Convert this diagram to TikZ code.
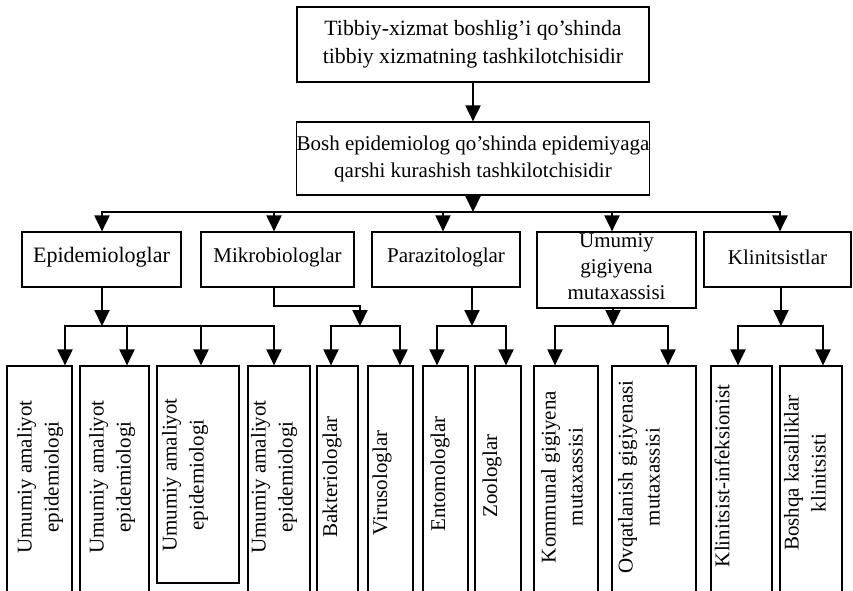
\documentclass[tikz,border=0pt]{standalone}
\usepackage{fontspec}
\setmainfont{Liberation Serif}
\usetikzlibrary{arrows.meta}
\begin{document}
\begin{tikzpicture}[x=1pt,y=-1pt,
  box/.style={draw,line width=1.2pt,inner sep=0pt},
  txt/.style={font=\fontsize{21}{27}\selectfont,align=center,inner sep=0pt},
  vtxt/.style={txt,rotate=90},
  conn/.style={line width=2pt},
  arr/.style={conn,-{Triangle[width=15pt,length=16pt]}}]
\useasboundingbox (0,0) rectangle (853,590);
\clip (0,0) rectangle (853,590);
% top level
\node[box,txt,font=\fontsize{21.8}{28}\selectfont,minimum width=352pt,minimum height=75pt] (top) at (473,44.5)
  {Tibbiy-xizmat boshlig’i qo’shinda\\tibbiy xizmatning tashkilotchisidir};
\node[box,txt,minimum width=352pt,minimum height=73pt] (chief) at (473,158.5)
  {Bosh epidemiolog qo’shinda epidemiyaga\\qarshi kurashish tashkilotchisidir};
% level 2
\node[box,minimum width=159pt,minimum height=55pt] (epid) at (101.5,259.5) {};
\node[txt,font=\fontsize{22}{27}\selectfont] (epidt) at (101.5,257) {Epidemiologlar};
\node[box,minimum width=153pt,minimum height=55pt] (mikro) at (277.5,259.5) {};
\node[txt] (mikrot) at (277.5,257) {Mikrobiologlar};
\node[box,minimum width=148pt,minimum height=55pt] (paraz) at (446,259.5) {};
\node[txt] (parazt) at (446,257) {Parazitologlar};
\node[box,minimum width=159pt,minimum height=76pt] (umum) at (616.5,270) {};
\node[txt,font=\fontsize{21}{26}\selectfont] (umumt) at (616.5,267) {Umumiy\\gigiyena\\mutaxassisi};
\node[box,minimum width=147pt,minimum height=55pt] (klin) at (777.5,259.5) {};
\node[txt] (klint) at (777.5,257) {Klinitsistlar};
% level 3 boxes
\node[box,minimum width=65pt,minimum height=234pt] (b1) at (39.5,483) {};
\node[box,minimum width=69pt,minimum height=234pt] (b2) at (114.5,483) {};
\node[box,minimum width=82pt,minimum height=217pt] (b3) at (198,474.5) {};
\node[box,minimum width=62pt,minimum height=234pt] (b4) at (279,483) {};
\node[box,minimum width=41pt,minimum height=234pt] (b5) at (337.5,483) {};
\node[box,minimum width=45pt,minimum height=234pt] (b6) at (390.5,483) {};
\node[box,minimum width=45pt,minimum height=234pt] (b7) at (445.5,483) {};
\node[box,minimum width=46pt,minimum height=234pt] (b8) at (498,483) {};
\node[box,minimum width=64pt,minimum height=234pt] (b9) at (566,483) {};
\node[box,minimum width=84pt,minimum height=234pt] (b10) at (654,483) {};
\node[box,minimum width=61pt,minimum height=234pt] (b11) at (741.5,483) {};
\node[box,minimum width=62pt,minimum height=234pt] (b12) at (811,483) {};
% level 3 texts
\node[vtxt] (t1) at (40,477) {Umumiy amaliyot\\epidemiologi};
\node[vtxt] (t2) at (112,477) {Umumiy amaliyot\\epidemiologi};
\node[vtxt] (t3) at (185,475) {Umumiy amaliyot\\epidemiologi};
\node[vtxt] (t4) at (274,477) {Umumiy amaliyot\\epidemiologi};
\node[vtxt] (t5) at (332,477) {Bakteriologlar};
\node[vtxt] (t6) at (382,483) {Virusologlar};
\node[vtxt] (t7) at (440,474) {Entomologlar};
\node[vtxt] (t8) at (492,476) {Zoologlar};
\node[vtxt] (t9) at (562,477) {Kommunal gigiyena\\mutaxassisi};
\node[vtxt] (t10) at (639,477) {Ovqatlanish gigiyenasi\\mutaxassisi};
\node[vtxt] (t11) at (722,476) {Klinitsist-infeksionist};
\node[vtxt] (t12) at (805,473) {Boshqa kasalliklar\\klinitsisti};
% connectors top
\draw[arr] (top.south) -- (chief.north);
\coordinate (barC) at (473,212);
\coordinate (barL) at (102,212);
\coordinate (barM) at (274,212);
\coordinate (barP) at (443,212);
\coordinate (barU) at (612,212);
\coordinate (barR) at (780,212);
\draw[arr] (chief.south) -- (barC);
\draw[conn,line cap=rect] (barL) -- (barR);
\draw[arr] (barL) -- (barL |- epid.north);
\draw[arr] (barM) -- (barM |- mikro.north);
\draw[arr] (barP) -- (barP |- paraz.north);
\draw[arr] (barU) -- (barU |- umum.north);
\draw[arr] (barR) -- (barR |- klin.north);
% epidemiologlar group
\coordinate (eC) at (102,326);
\coordinate (eL) at (65,326);
\coordinate (e2) at (127,326);
\coordinate (e3) at (201,326);
\coordinate (eR) at (274,326);
\draw[arr] (epid.south -| eC) -- (eC);
\draw[conn,line cap=rect] (eL) -- (eR);
\draw[arr] (eL) -- (eL |- b1.north);
\draw[arr] (e2) -- (e2 |- b2.north);
\draw[arr] (e3) -- (e3 |- b3.north);
\draw[arr] (eR) -- (eR |- b4.north);
% mikrobiologlar group
\coordinate (m1) at (274,306);
\coordinate (m2) at (360,306);
\coordinate (mC) at (360,326);
\coordinate (mL) at (331,326);
\coordinate (mR) at (400,326);
\draw[arr] (mikro.south -| m1) -- (m1) -- (m2) -- (mC);
\draw[conn,line cap=rect] (mL) -- (mR);
\draw[arr] (mL) -- (mL |- b5.north);
\draw[arr] (mR) -- (mR |- b6.north);
% parazitologlar group
\coordinate (pC) at (472,326);
\coordinate (pL) at (437,326);
\coordinate (pR) at (506,326);
\draw[arr] (paraz.south -| pC) -- (pC);
\draw[conn,line cap=rect] (pL) -- (pR);
\draw[arr] (pL) -- (pL |- b7.north);
\draw[arr] (pR) -- (pR |- b8.north);
% umumiy gigiyena group
\coordinate (uC) at (613,326);
\coordinate (uL) at (555,326);
\coordinate (uR) at (668,326);
\draw[arr] (umum.south -| uC) -- (uC);
\draw[conn,line cap=rect] (uL) -- (uR);
\draw[arr] (uL) -- (uL |- b9.north);
\draw[arr] (uR) -- (uR |- b10.north);
% klinitsistlar group
\coordinate (kC) at (781,326);
\coordinate (kL) at (738,326);
\coordinate (kR) at (823,326);
\draw[arr] (klin.south -| kC) -- (kC);
\draw[conn,line cap=rect] (kL) -- (kR);
\draw[arr] (kL) -- (kL |- b11.north);
\draw[arr] (kR) -- (kR |- b12.north);
\end{tikzpicture}
\end{document}
